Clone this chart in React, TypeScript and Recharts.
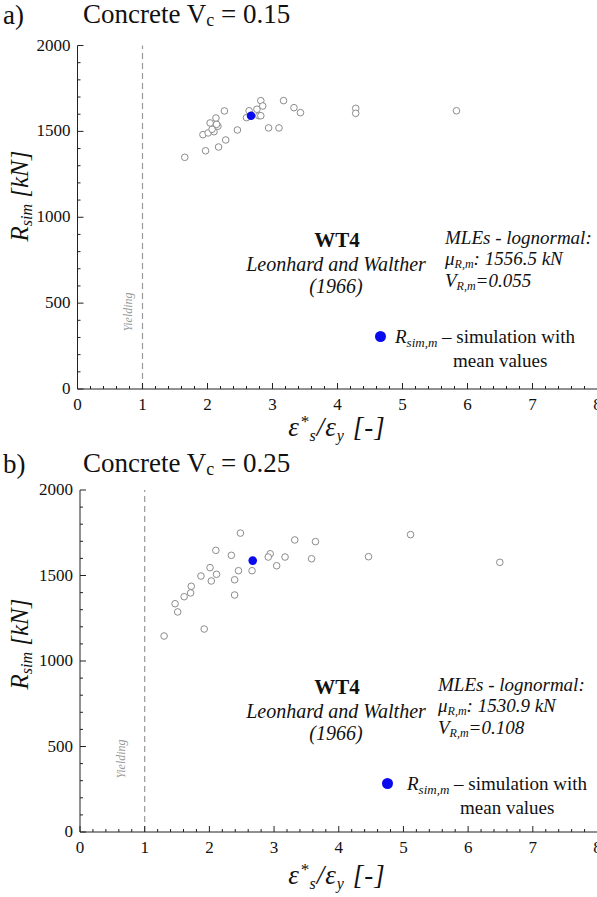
import React from "react";
import { ScatterChart, Scatter, XAxis, YAxis, ReferenceLine } from "recharts";

// panel a) Concrete Vc = 0.15
const strainA = [
  1.65, 1.97, 2.17, 2.28, 1.93, 2.01, 2.1, 2.07, 2.16, 2.14, 2.04, 2.13, 2.26, 2.46, 2.6,
  2.64, 2.76, 2.79, 2.82, 2.82, 2.85, 2.94, 3.1, 3.17, 3.33, 3.43, 4.28, 4.28, 5.83,
];
const resA = [
  1349, 1387, 1409, 1450, 1481, 1491, 1498, 1512, 1530, 1541, 1549, 1578, 1619, 1508, 1580,
  1620, 1629, 1591, 1591, 1679, 1648, 1520, 1520, 1679, 1638, 1609, 1634, 1605, 1620,
];
const meanA = { x: 2.67, y: 1591 };

// panel b) Concrete Vc = 0.25
const strainB = [
  2.48, 3.32, 3.64, 2.1, 2.34, 2.94, 2.91, 3.17, 3.58, 3.04, 2.01, 2.45, 2.66, 2.11, 1.87,
  2.03, 2.39, 1.72, 1.71, 1.61, 1.47, 1.51, 2.39, 1.92, 1.3, 5.11, 4.46, 6.49,
];
const resB = [
  1748, 1708, 1698, 1647, 1618, 1627, 1608, 1608, 1598, 1557, 1546, 1528, 1528, 1507, 1497,
  1468, 1475, 1437, 1398, 1376, 1335, 1287, 1386, 1187, 1146, 1739, 1610, 1577,
];
const meanB = { x: 2.67, y: 1587 };

const xMajor = [0, 1, 2, 3, 4, 5, 6, 7, 8];
const yMajor = [0, 500, 1000, 1500, 2000];
const xTicks = Array.from({ length: 41 }, (_, i) => Number((i * 0.2).toFixed(1)));
const yTicks = Array.from({ length: 21 }, (_, i) => i * 100);

const serif = '"Times New Roman", "Liberation Serif", serif';
const dark = "#222";
const light = "#8a8a8a";

const isMajor = (v: number, list: number[]) => list.some((m) => Math.abs(m - v) < 1e-6);

function BottomTick(props: any) {
  const { x, y, payload } = props;
  const major = isMajor(payload.value, xMajor);
  return (
    <g>
      <line x1={x} x2={x} y1={y} y2={y - (major ? 6 : 3)} stroke={dark} />
      {major && (
        <text x={x} y={y + 21} textAnchor="middle" fontFamily={serif} fontSize={17} fill="#111">
          {Math.round(payload.value)}
        </text>
      )}
    </g>
  );
}

function TopTick(props: any) {
  const { x, y, payload } = props;
  const major = isMajor(payload.value, xMajor);
  return <line x1={x} x2={x} y1={y} y2={y + (major ? 6 : 3)} stroke={dark} />;
}

function LeftTick(props: any) {
  const { x, y, payload } = props;
  const major = isMajor(payload.value, yMajor);
  return (
    <g>
      <line x1={x} x2={x + (major ? 6 : 3)} y1={y} y2={y} stroke={dark} />
      {major && (
        <text x={x - 7} y={y + 5} textAnchor="end" fontFamily={serif} fontSize={17} fill="#111">
          {payload.value}
        </text>
      )}
    </g>
  );
}

function RightTick(props: any) {
  const { x, y, payload } = props;
  const major = isMajor(payload.value, yMajor);
  return <line x1={x} x2={x - (major ? 6 : 3)} y1={y} y2={y} stroke={dark} />;
}

const OpenDot = (p: any) => (
  <circle cx={p.cx} cy={p.cy} r={3.3} fill="#fff" stroke="#8c8c8c" strokeWidth={1} />
);
const BlueDot = (p: any) => <circle cx={p.cx} cy={p.cy} r={4.3} fill="#0a0aee" />;

function Panel({ xs, ys, mean, left, top, bottom }: any) {
  const data = xs.map((x: number, i: number) => ({ x, y: ys[i] }));
  return (
    <ScatterChart
      width={620}
      height={450}
      margin={{ top, left: left - 60, right: 620 - 597.5, bottom: 450 - 40 - bottom }}
    >
      <XAxis
        dataKey="x"
        type="number"
        domain={[0, 8]}
        ticks={xTicks}
        interval={0}
        height={40}
        tickSize={0}
        tickMargin={0}
        tickLine={false}
        tick={BottomTick}
        axisLine={{ stroke: dark }}
      />
      <XAxis
        xAxisId="top"
        orientation="top"
        type="number"
        domain={[0, 8]}
        ticks={xTicks}
        interval={0}
        height={0}
        tickSize={0}
        tickMargin={0}
        tickLine={false}
        tick={TopTick}
        axisLine={{ stroke: light }}
      />
      <YAxis
        dataKey="y"
        type="number"
        domain={[0, 2000]}
        ticks={yTicks}
        interval={0}
        width={60}
        tickSize={0}
        tickMargin={0}
        tickLine={false}
        tick={LeftTick}
        axisLine={{ stroke: dark }}
      />
      <YAxis
        yAxisId="right"
        orientation="right"
        type="number"
        domain={[0, 2000]}
        ticks={yTicks}
        interval={0}
        width={0}
        tickSize={0}
        tickMargin={0}
        tickLine={false}
        tick={RightTick}
        axisLine={{ stroke: light }}
      />
      <ReferenceLine
        x={1}
        stroke="#999"
        strokeDasharray="6 4"
        strokeWidth={1.2}
        segment={[{ x: 1, y: 0 }, { x: 1, y: 1920 }]}
      />
      <Scatter data={data} shape={OpenDot} isAnimationActive={false} />
      <Scatter data={[mean]} shape={BlueDot} isAnimationActive={false} />
    </ScatterChart>
  );
}

function T({ x, y, center, size = 19, italic, bold, color = "#111", children }: any) {
  return (
    <div
      style={{
        position: "absolute",
        left: x,
        top: y,
        transform: center ? "translate(-50%, -50%)" : "translate(0, -50%)",
        whiteSpace: "nowrap",
        fontFamily: serif,
        fontSize: size,
        fontStyle: italic ? "italic" : "normal",
        fontWeight: bold ? "bold" : "normal",
        color,
        lineHeight: 1,
      }}
    >
      {children}
    </div>
  );
}

const sub = (s: string, size = 13) => (
  <span style={{ fontSize: size, verticalAlign: "-0.25em" }}>{s}</span>
);

function Annotations({ dy, mlesX, dotX, legX, meanX, yieldX, mu, cov }: any) {
  return (
    <>
      <T x={337} y={240 + dy} center bold size={21}>WT4</T>
      <T x={336} y={264 + dy} center italic size={20}>Leonhard and Walther</T>
      <T x={336} y={286 + dy} center italic size={20}>(1966)</T>
      <T x={mlesX} y={237 + dy} italic>MLEs - lognormal:</T>
      <T x={mlesX} y={259 + dy} italic>
        μ{sub("R,m", 12)}: {mu} kN
      </T>
      <T x={mlesX} y={281 + dy} italic>
        V{sub("R,m", 12)}={cov}
      </T>
      <div
        style={{
          position: "absolute",
          left: dotX - 5.5,
          top: 336 + dy - 5.5,
          width: 11,
          height: 11,
          borderRadius: "50%",
          background: "#0a0aee",
        }}
      />
      <T x={legX} y={338 + dy}>
        <i>R{sub("sim,m", 13)}</i> – simulation with
      </T>
      <T x={meanX} y={360 + dy}>mean values</T>
      <div
        style={{
          position: "absolute",
          left: yieldX,
          top: 312 + dy,
          transform: "translate(-50%, -50%) rotate(-90deg)",
          fontFamily: serif,
          fontStyle: "italic",
          fontSize: 12,
          color: "#999",
          whiteSpace: "nowrap",
        }}
      >
        Yielding
      </div>
    </>
  );
}

function Title({ y, tag, v }: any) {
  return (
    <>
      <T x={3} y={y} size={27}>{tag}</T>
      <T x={83} y={y} size={27}>
        Concrete V<span style={{ fontSize: 18, verticalAlign: "-0.2em" }}>c</span> = {v}
      </T>
    </>
  );
}

function AxisLabels({ dy }: any) {
  return (
    <>
      <div
        style={{
          position: "absolute",
          left: 21,
          top: 196 + dy,
          transform: "translate(-50%, -50%) rotate(-90deg)",
          fontFamily: serif,
          fontStyle: "italic",
          fontSize: 25,
          whiteSpace: "nowrap",
          color: "#111",
        }}
      >
        R<span style={{ fontSize: 16, verticalAlign: "-0.25em" }}>sim</span> [kN]
      </div>
      <T x={337} y={429 + dy} center italic size={27}>
        <span style={{ letterSpacing: 1 }}>
          ε<span style={{ fontSize: 17, verticalAlign: "0.55em" }}>*</span>
          <span style={{ fontSize: 16, verticalAlign: "-0.3em" }}>s</span>/ε
          <span style={{ fontSize: 16, verticalAlign: "-0.3em" }}>y</span> [-]
        </span>
      </T>
    </>
  );
}

export default function App() {
  return (
    <div
      style={{
        position: "absolute",
        left: 0,
        top: 0,
        width: 597,
        height: 897,
        overflow: "hidden",
        background: "#fff",
      }}
    >
      <div style={{ position: "absolute", left: 0, top: 0 }}>
        <Panel xs={strainA} ys={resA} mean={meanA} left={77.5} top={45.5} bottom={389} />
      </div>
      <div style={{ position: "absolute", left: 0, top: 445 }}>
        <Panel xs={strainB} ys={resB} mean={meanB} left={80} top={45} bottom={387} />
      </div>
      <Title y={15} tag="a)" v="0.15" />
      <Title y={464} tag="b)" v="0.25" />
      <AxisLabels dy={0} />
      <AxisLabels dy={448} />
      <Annotations dy={0} mlesX={445} dotX={380} legX={395} meanX={453} yieldX={128} mu="1556.5" cov="0.055" />
      <Annotations dy={447} mlesX={438} dotX={387} legX={407} meanX={460} yieldX={121} mu="1530.9" cov="0.108" />
    </div>
  );
}
